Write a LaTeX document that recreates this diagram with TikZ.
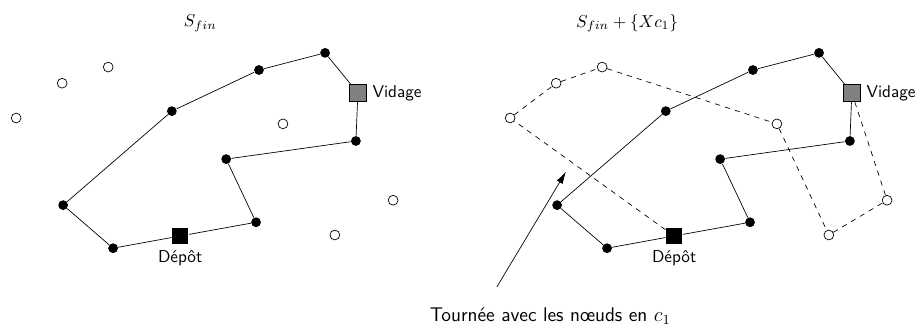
\documentclass[tikz,border=0pt]{standalone}
\usepackage{amsmath}
\usepackage{amssymb}
\usepackage{tikz}
\usetikzlibrary{arrows.meta}

\tikzset{
    client/.style={circle, fill=black, inner sep=0pt, minimum size=0.2cm},
    libre/.style={circle, draw=black, fill=white, inner sep=0pt, minimum size=0.2cm},
    depot/.style={rectangle, fill=black, inner sep=0pt, minimum size=0.34cm},
    vidage/.style={rectangle, draw=black, fill=gray, inner sep=0pt, minimum size=0.34cm},
    every label/.style={font=\sffamily}
}

\begin{document}
\begin{tikzpicture}
    \useasboundingbox (0,0) rectangle (18.69,6.66);
    \node (titreg) at (4.09,6.19) {$S_{fin}$};
    \node (titred) at (12.81,6.19) {$S_{fin} + \{Xc_1\}$};
    \foreach \p/\dx in {g/0, d/10.09} {
        \begin{scope}[xshift=\dx cm]
            \node[libre] (\p e1) at (2.21,5.29) {};
            \node[libre] (\p e2) at (1.27,4.96) {};
            \node[libre] (\p e3) at (0.33,4.25) {};
            \node[libre] (\p e4) at (5.78,4.13) {};
            \node[libre] (\p e5) at (8.03,2.57) {};
            \node[libre] (\p e6) at (6.84,1.86) {};
            \node[client] (\p f1) at (6.64,5.58) {};
            \node[client] (\p f2) at (5.29,5.23) {};
            \node[client] (\p f3) at (3.51,4.39) {};
            \node[client] (\p f4) at (1.29,2.47) {};
            \node[client] (\p f5) at (2.31,1.59) {};
            \node[client] (\p f6) at (5.23,2.12) {};
            \node[client] (\p f7) at (4.62,3.41) {};
            \node[client] (\p f8) at (7.27,3.78) {};
            \node[depot, label=below:Dépôt] (\p dep) at (3.68,1.84) {};
            \node[vidage, label=right:Vidage] (\p vid) at (7.31,4.76) {};
            \draw (\p dep) -- (\p f6) -- (\p f7) -- (\p f8) -- (\p vid) -- (\p f1)
                -- (\p f2) -- (\p f3) -- (\p f4) -- (\p f5) -- (\p dep);
        \end{scope}
    }
    \draw[dashed] (ddep) -- (de3) -- (de2) -- (de1) -- (de4) -- (de6) -- (de5) -- (dvid);
    \node[anchor=base, font=\sffamily\fontsize{11.5}{14}\selectfont] (legende) at (11.24,0.10) {Tournée avec les nœuds en $c_1$};
    \coordinate (queue) at (10.15,0.80);
    \coordinate (pointe) at (11.56,3.15);
    \draw[-{Latex[length=7pt,width=4pt]}] (queue) -- (pointe);
\end{tikzpicture}
\end{document}
